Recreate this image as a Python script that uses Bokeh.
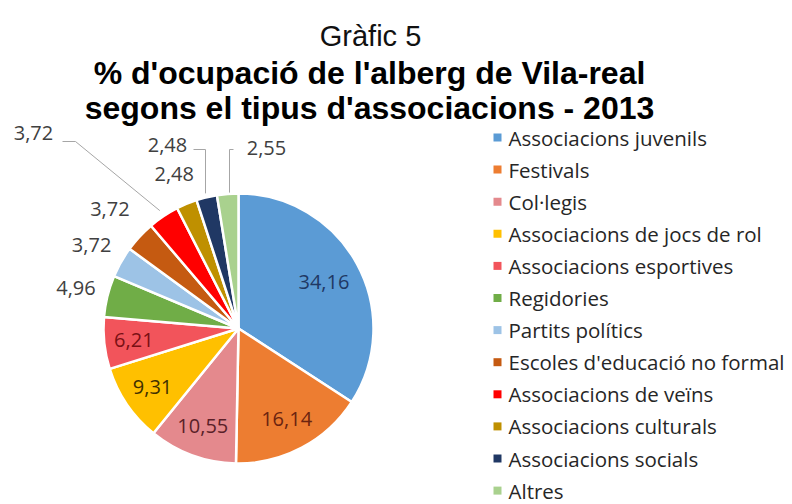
import math
from bokeh.plotting import figure
from bokeh.models import Range1d
from bokeh.core.properties import value
from bokeh.embed import file_html
from bokeh.resources import INLINE

# ---------------- data ----------------
categories = [
    "Associacions juvenils",
    "Festivals",
    "Col\u00b7legis",
    "Associacions de jocs de rol",
    "Associacions esportives",
    "Regidories",
    "Partits pol\u00edtics",
    "Escoles d'educaci\u00f3 no formal",
    "Associacions de ve\u00efns",
    "Associacions culturals",
    "Associacions socials",
    "Altres",
]
values = [34.16, 16.14, 10.55, 9.31, 6.21, 4.96, 3.72, 3.72, 3.72, 2.48, 2.48, 2.55]
title_top = "Gr\u00e0fic 5"
title_lines = ["% d'ocupaci\u00f3 de l'alberg de Vila-real",
               "segons el tipus d'associacions - 2013"]

# ---------------- styles / layout ----------------
colors = ["#5B9BD5", "#ED7D31", "#E4898D", "#FFC000", "#F2545B", "#70AD47",
          "#9DC3E6", "#C55A11", "#FF0000", "#BF9000", "#203864", "#A9D18E"]
label_colors = ["#1F3864", "#6B2410", "#5A1F28", "#3F3000", "#7A1014",
                "#404040", "#404040", "#404040", "#404040", "#404040", "#404040", "#404040"]
# radial position of labels (fraction of radius); None -> explicit position with leader
label_rf = [0.72, 0.76, 0.77, 0.77, 0.78, 1.24, 1.25, 1.30, None, 1.24, None, None]
# explicit label positions in page pixels for slices with leader lines
leader_labels = {8: (33, 132), 10: (167, 144), 11: (266, 147)}
# leader line: start, elbow (page px), end is computed on the slice
leader_paths = {8: [(62, 141), (75, 141)], 10: [(193, 149), (205, 149)], 11: [(233, 149), (229, 149)]}
leader_end_rf = {8: 1.05, 10: 1.03, 11: 1.01}

W, H = 792, 504


def Y(py):
    return H - py


CX, CY, R = 238, Y(328), 135

p = figure(width=W, height=H, output_backend="svg", toolbar_location=None,
           x_range=Range1d(0, W), y_range=Range1d(0, H),
           x_axis_type=None, y_axis_type=None, min_border=0)
p.grid.visible = False
p.outline_line_color = None
p.background_fill_color = "white"
p.border_fill_color = "white"

total = sum(values)
cum = 0.0
starts, ends, mids = [], [], []
for v in values:
    a0 = math.pi / 2 - 2 * math.pi * cum / total
    cum += v
    a1 = math.pi / 2 - 2 * math.pi * cum / total
    starts.append(a0)
    ends.append(a1)
    mids.append((a0 + a1) / 2)

p.wedge(x=[CX] * len(values), y=[CY] * len(values), radius=R,
        start_angle=starts, end_angle=ends, direction="clock",
        fill_color=colors, line_color="white", line_width=2.5)

# labels
lx, ly, lt, lc = [], [], [], []
for i, v in enumerate(values):
    txt = f"{v:.2f}".replace(".", ",")
    if label_rf[i] is not None:
        x = CX + R * label_rf[i] * math.cos(mids[i])
        y = CY + R * label_rf[i] * math.sin(mids[i])
    else:
        px, py = leader_labels[i]
        x, y = px, Y(py)
        pts = leader_paths[i]
        ex = CX + R * leader_end_rf[i] * math.cos(mids[i])
        ey = CY + R * leader_end_rf[i] * math.sin(mids[i])
        if i != 8:
            ex = pts[1][0]
        xs = [pts[0][0], pts[1][0], ex]
        ys = [Y(pts[0][1]), Y(pts[1][1]), ey]
        p.line(xs, ys, line_color="#A6A6A6", line_width=1)
    lx.append(x); ly.append(y); lt.append(txt); lc.append(label_colors[i])

p.text(x=lx, y=ly, text=lt, text_color=lc, text_font=value("Open Sans"),
       text_font_size="20px", text_align="center", text_baseline="middle")

# legend
n = len(categories)
leg_y = [Y(137 + 32.1 * i) for i in range(n)]
p.scatter(x=[497] * n, y=leg_y, marker="square", size=8, fill_color=colors, line_color=None)
p.text(x=[508] * n, y=leg_y, text=categories, text_color="#262626",
       text_font=value("Open Sans"), text_font_size="20.5px",
       text_align="left", text_baseline="middle")

# titles
p.text(x=[370], y=[Y(35)], text=[title_top], text_color="#111111",
       text_font=value("Liberation Sans"), text_font_size="29px",
       text_align="center", text_baseline="alphabetic")
p.text(x=[369, 369], y=[Y(72), Y(107)], text=title_lines, text_color="#000000",
       text_font=value("Liberation Sans"), text_font_size="32px", text_font_style="bold",
       text_align="center", text_baseline="alphabetic")

open("out.html", "w").write(file_html(p, INLINE))
